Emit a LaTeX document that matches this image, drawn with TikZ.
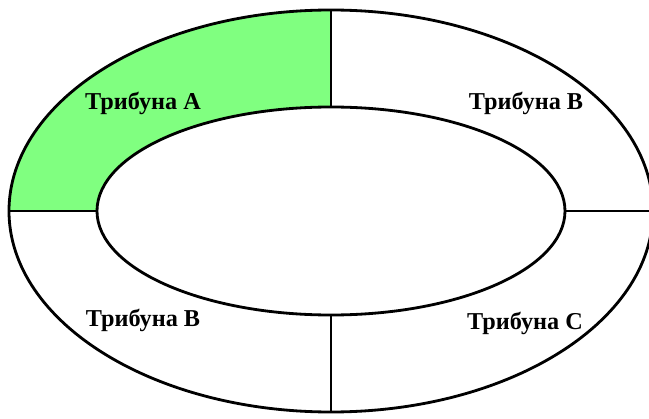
\documentclass[tikz,border=0pt]{standalone}
\usepackage{fontspec}
\setmainfont{Liberation Serif}
\definecolor{tribgreen}{RGB}{128,255,128}

\begin{document}
\begin{tikzpicture}[x=0.02cm, y=0.02cm, line width=1.6pt,
    stand/.style={font=\fontsize{13.8}{15}\selectfont\bfseries}]

    % --- Frame ---
    \useasboundingbox (-331,-208) rectangle (318,211);
    \clip (-331,-208) rectangle (318,211);

    % --- Coordinates ---
    \coordinate (c) at (0,0);
    \coordinate (outerN) at (0,201);
    \coordinate (outerS) at (0,-201);
    \coordinate (outerW) at (-322,0);
    \coordinate (outerE) at (322,0);
    \coordinate (innerN) at (0,104);
    \coordinate (innerS) at (0,-104);
    \coordinate (innerW) at (-234,0);
    \coordinate (innerE) at (234,0);

    % --- Stand A (green quarter) ---
    \fill[tribgreen] (outerW) arc[start angle=180, end angle=90, x radius=322, y radius=201]
        -- (innerN) arc[start angle=90, end angle=180, x radius=234, y radius=104] -- cycle;

    % --- Ellipses ---
    \draw (c) ellipse[x radius=322, y radius=201];
    \draw[fill=white] (c) ellipse[x radius=234, y radius=104];

    % --- Dividers ---
    \draw (outerN) -- (innerN);
    \draw (outerS) -- (innerS);
    \draw (outerW) -- (innerW);
    \draw (outerE) -- (innerE);

    % --- Labels ---
    \node[stand] (standA) at (-188,108) {Трибуна А};
    \node[stand] (standB1) at (195,108) {Трибуна В};
    \node[stand] (standB2) at (-188,-109) {Трибуна В};
    \node[stand] (standC) at (194,-112) {Трибуна С};

\end{tikzpicture}
\end{document}
